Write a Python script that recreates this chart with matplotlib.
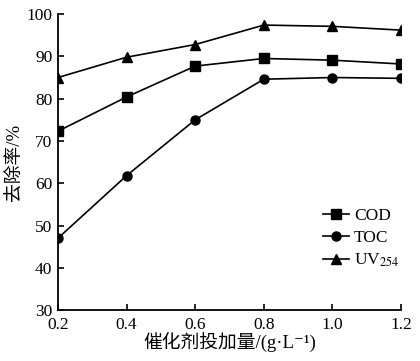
import matplotlib
matplotlib.use('Agg')
import matplotlib.pyplot as plt

plt.rcParams['font.family'] = ['Liberation Serif', 'Noto Sans CJK SC', 'DejaVu Serif']
plt.rcParams['mathtext.fontset'] = 'stix'

dose = [0.2, 0.4, 0.6, 0.8, 1.0, 1.2]
cod = [72.3, 80.4, 87.7, 89.5, 89.1, 88.2]
toc = [47.0, 61.8, 75.0, 84.6, 85.0, 84.8]
uv254 = [85.0, 89.8, 92.8, 97.4, 97.1, 96.2]

fig = plt.figure(figsize=(4.2, 3.61), dpi=100)
ax = fig.add_axes([0.138, 0.141, 0.817, 0.820])

ax.plot(dose, cod, c='k', lw=1.2, marker='s', ms=6.5, label='COD')
ax.plot(dose, toc, c='k', lw=1.2, marker='o', ms=6.5, label='TOC')
ax.plot(dose, uv254, c='k', lw=1.2, marker='^', ms=7.5, label='UV$_{254}$')

ax.set_xlim(0.2, 1.2)
ax.set_ylim(30, 100)
ax.set_xticks(dose)
ax.set_xticklabels(['0.2', '0.4', '0.6', '0.8', '1.0', '1.2'])
ax.set_yticks(range(30, 101, 10))
for s in ['top', 'right']:
    ax.spines[s].set_visible(False)
for s in ['left', 'bottom']:
    ax.spines[s].set_linewidth(1.3)
ax.tick_params(direction='in', length=4, width=1.2, labelsize=12.5)
ax.tick_params(axis='x', pad=5)
ax.tick_params(axis='y', pad=4)

ax.set_ylabel('去除率/%', fontsize=13.5, labelpad=2)
ax.set_xlabel('催化剂投加量/(g·L⁻¹)', fontsize=13.5, labelpad=0)

ax.legend(loc='lower right', bbox_to_anchor=(1.04, 0.085), frameon=False, fontsize=12.5,
          handlelength=1.5, handletextpad=0.3, labelspacing=0.35)

fig.savefig('out.png', dpi=100)
